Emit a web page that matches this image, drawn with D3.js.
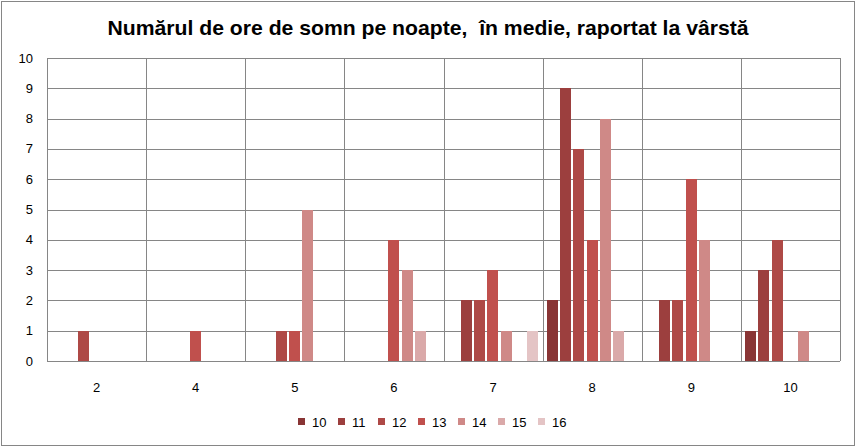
<!DOCTYPE html>
<html><head><meta charset="utf-8">
<script src="https://cdn.jsdelivr.net/npm/d3@7"></script>
<style>body{margin:0;background:#fff}svg{display:block}</style>
</head><body>
<svg id="c" width="857" height="448"></svg>
<script>
const title = "Numărul de ore de somn pe noapte,  în medie, raportat la vârstă";
const categories = ["2","4","5","6","7","8","9","10"];
const seriesNames = ["10","11","12","13","14","15","16"];
const seriesColors = ["#893535","#9C3F3E","#AE4946","#C0504D","#CF8987","#DAA9A9","#E4C4C5"];
// values[series][category]
const s10 = [0,0,0,0,0,2,0,1];
const s11 = [0,0,0,0,2,9,2,3];
const s12 = [1,0,1,0,2,7,2,4];
const s13 = [0,1,1,4,3,4,6,0];
const s14 = [0,0,5,3,1,8,4,1];
const s15 = [0,0,0,1,0,1,0,0];
const s16 = [0,0,0,0,1,0,0,0];
const seriesValues = [s10,s11,s12,s13,s14,s15,s16];
const yTicks = [0,1,2,3,4,5,6,7,8,9,10];

const svg = d3.select("#c");
const font = "Liberation Sans, Arial, sans-serif";
svg.append("rect").attr("x",1.5).attr("y",1.5).attr("width",853).attr("height",444)
  .attr("fill","#fff").attr("stroke","#868686").attr("stroke-width",1);

const m = {left:47, right:840, top:58, bottom:361};
const x0 = d3.scaleBand().domain(categories).range([m.left,m.right]).padding(0);
const x1 = d3.scaleBand().domain(seriesNames).range([0,x0.bandwidth()]).paddingInner(0).paddingOuter(0.25);
const y = d3.scaleLinear().domain([0,10]).range([m.bottom,m.top]);

// grid
const g = svg.append("g");
g.selectAll("line.h").data(yTicks).join("line")
  .attr("x1",m.left).attr("x2",m.right)
  .attr("y1",d=>Math.round(y(d))+0.5).attr("y2",d=>Math.round(y(d))+0.5)
  .attr("stroke","#868686").attr("stroke-width",1);
const vEdges = categories.map(c=>x0(c)).concat([m.right]);
g.selectAll("line.v").data(vEdges).join("line")
  .attr("x1",d=>Math.round(d)+0.5).attr("x2",d=>Math.round(d)+0.5)
  .attr("y1",m.top).attr("y2",m.bottom)
  .attr("stroke","#868686").attr("stroke-width",1);

// bars
const bars = [];
seriesValues.forEach((arr,si)=>arr.forEach((v,ci)=>{ if(v>0) bars.push({s:seriesNames[si],c:categories[ci],v,col:seriesColors[si]}); }));
svg.append("g").selectAll("rect").data(bars).join("rect")
  .attr("x",d=>Math.round(x0(d.c)+x1(d.s)+1))
  .attr("width",Math.round(x1.bandwidth()-2))
  .attr("y",d=>Math.round(y(d.v)))
  .attr("height",d=>Math.round(y(0))-Math.round(y(d.v)))
  .attr("fill",d=>d.col);

// y axis labels
svg.append("g").selectAll("text").data(yTicks).join("text")
  .attr("x",33).attr("y",d=>y(d)+4.5).attr("text-anchor","end")
  .attr("font-family",font).attr("font-size",13).attr("fill","#000").text(d=>d);

// x axis labels
svg.append("g").selectAll("text").data(categories).join("text")
  .attr("x",d=>x0(d)+x0.bandwidth()/2).attr("y",392).attr("text-anchor","middle")
  .attr("font-family",font).attr("font-size",13).attr("fill","#000").text(d=>d);

// title
svg.append("text").attr("x",428).attr("y",35).attr("text-anchor","middle")
  .attr("font-family",font).attr("font-weight","bold").attr("font-size",21)
  .attr("textLength",641).attr("lengthAdjust","spacingAndGlyphs")
  .style("white-space","pre")
  .text(title);

// legend
const lg = svg.append("g");
const lx = d3.scaleBand().domain(seriesNames).range([298,298+40*7]);
seriesNames.forEach((s,i)=>{
  lg.append("rect").attr("x",lx(s)).attr("y",418).attr("width",7).attr("height",7).attr("fill",seriesColors[i]);
  lg.append("text").attr("x",lx(s)+14).attr("y",427).attr("font-family",font).attr("font-size",13).text(s);
});
</script>
</body></html>
